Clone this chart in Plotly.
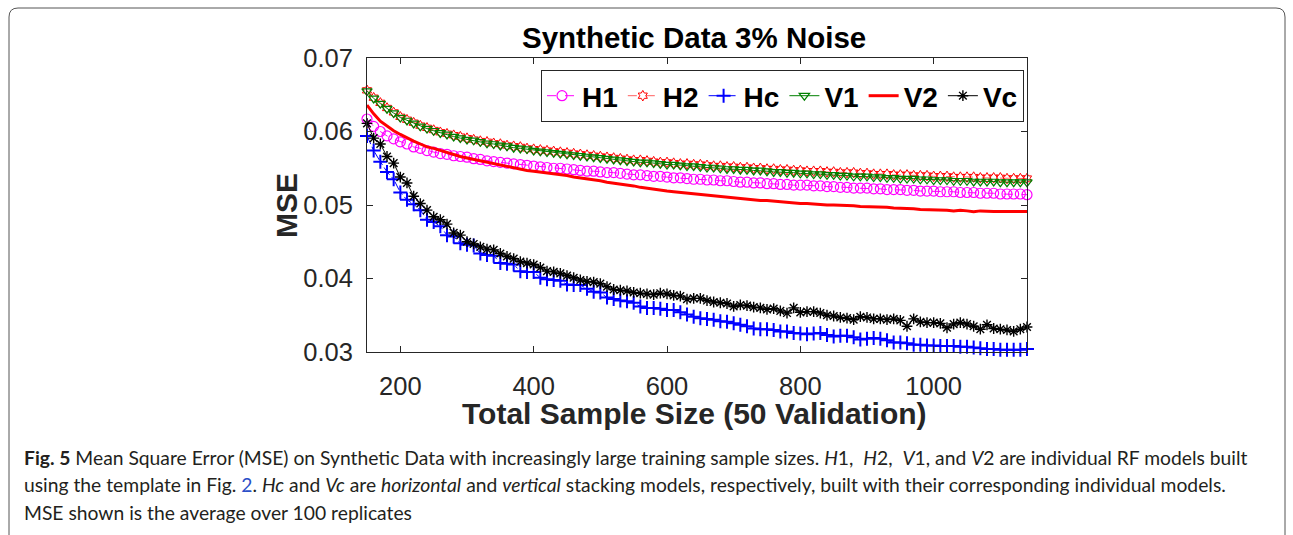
import plotly.graph_objects as go

# ---------------- data ----------------
sample_size = list(range(150, 1141, 10))

H1 = [0.0617, 0.0607, 0.0600, 0.0594, 0.0590, 0.0586, 0.0583, 0.0579, 0.0577, 0.0574,
      0.0572, 0.0570, 0.0569, 0.0567, 0.0566, 0.0565, 0.0563, 0.0562, 0.0560, 0.0559,
      0.0558, 0.0557, 0.0556, 0.0555, 0.0554, 0.0553, 0.0552, 0.0551, 0.0550, 0.0550,
      0.0549, 0.0548, 0.0547, 0.0546, 0.0546, 0.0545, 0.0544, 0.0544, 0.0543, 0.0542,
      0.0541, 0.0541, 0.0540, 0.0539, 0.0539, 0.0538, 0.0537, 0.0537, 0.0536, 0.0535,
      0.0535, 0.0534, 0.0534, 0.0533, 0.0533, 0.0532, 0.0531, 0.0531, 0.0530, 0.0530,
      0.0529, 0.0529, 0.0528, 0.0528, 0.0527, 0.0527, 0.0527, 0.0526, 0.0526, 0.0525,
      0.0525, 0.0524, 0.0524, 0.0523, 0.0523, 0.0523, 0.0522, 0.0522, 0.0521, 0.0521,
      0.0521, 0.0520, 0.0520, 0.0519, 0.0519, 0.0519, 0.0518, 0.0518, 0.0518, 0.0517,
      0.0517, 0.0517, 0.0516, 0.0516, 0.0516, 0.0515, 0.0515, 0.0515, 0.0515, 0.0514]

H2 = [0.0656, 0.0646, 0.0639, 0.0632, 0.0626, 0.0620, 0.0616, 0.0612, 0.0608, 0.0605,
      0.0602, 0.0599, 0.0597, 0.0595, 0.0593, 0.0591, 0.0589, 0.0587, 0.0586, 0.0584,
      0.0583, 0.0581, 0.0580, 0.0579, 0.0577, 0.0576, 0.0575, 0.0574, 0.0573, 0.0572,
      0.0571, 0.0570, 0.0569, 0.0568, 0.0567, 0.0566, 0.0565, 0.0564, 0.0563, 0.0562,
      0.0561, 0.0561, 0.0560, 0.0559, 0.0558, 0.0558, 0.0557, 0.0556, 0.0556, 0.0555,
      0.0555, 0.0554, 0.0553, 0.0553, 0.0552, 0.0552, 0.0551, 0.0551, 0.0550, 0.0550,
      0.0549, 0.0549, 0.0548, 0.0548, 0.0547, 0.0547, 0.0546, 0.0546, 0.0546, 0.0545,
      0.0545, 0.0544, 0.0544, 0.0544, 0.0543, 0.0543, 0.0542, 0.0542, 0.0542, 0.0541,
      0.0541, 0.0541, 0.0540, 0.0540, 0.0540, 0.0539, 0.0539, 0.0539, 0.0538, 0.0538,
      0.0538, 0.0538, 0.0537, 0.0537, 0.0537, 0.0537, 0.0536, 0.0536, 0.0536, 0.0536]

Hc = [0.0594, 0.0574, 0.0559, 0.0545, 0.0535, 0.0517, 0.0507, 0.0501, 0.0493, 0.0480,
      0.0477, 0.0471, 0.0459, 0.0457, 0.0448, 0.0446, 0.0445, 0.0434, 0.0432, 0.0431,
      0.0421, 0.0420, 0.0419, 0.0410, 0.0409, 0.0409, 0.0401, 0.0399, 0.0398, 0.0397,
      0.0392, 0.0391, 0.0391, 0.0386, 0.0382, 0.0381, 0.0374, 0.0372, 0.0370, 0.0369,
      0.0367, 0.0362, 0.0360, 0.0360, 0.0359, 0.0357, 0.0357, 0.0354, 0.0351, 0.0348,
      0.0346, 0.0345, 0.0344, 0.0342, 0.0341, 0.0339, 0.0337, 0.0335, 0.0332, 0.0331,
      0.0331, 0.0330, 0.0328, 0.0328, 0.0326, 0.0325, 0.0324, 0.0325, 0.0326, 0.0323,
      0.0321, 0.0322, 0.0322, 0.0320, 0.0317, 0.0318, 0.0319, 0.0318, 0.0316, 0.0313,
      0.0313, 0.0312, 0.0310, 0.0310, 0.0309, 0.0309, 0.0308, 0.0308, 0.0308, 0.0307,
      0.0307, 0.0306, 0.0305, 0.0304, 0.0304, 0.0303, 0.0303, 0.0303, 0.0303, 0.0304]

V1 = [0.0655, 0.0645, 0.0638, 0.0631, 0.0625, 0.0619, 0.0615, 0.0611, 0.0607, 0.0604,
      0.0601, 0.0598, 0.0596, 0.0593, 0.0591, 0.0589, 0.0588, 0.0586, 0.0584, 0.0583,
      0.0581, 0.0580, 0.0578, 0.0577, 0.0576, 0.0574, 0.0573, 0.0572, 0.0571, 0.0570,
      0.0569, 0.0568, 0.0567, 0.0566, 0.0565, 0.0564, 0.0563, 0.0562, 0.0561, 0.0560,
      0.0559, 0.0558, 0.0558, 0.0557, 0.0556, 0.0555, 0.0555, 0.0554, 0.0553, 0.0553,
      0.0552, 0.0551, 0.0551, 0.0550, 0.0549, 0.0549, 0.0548, 0.0548, 0.0547, 0.0547,
      0.0546, 0.0545, 0.0545, 0.0544, 0.0544, 0.0543, 0.0543, 0.0542, 0.0542, 0.0541,
      0.0541, 0.0540, 0.0540, 0.0539, 0.0539, 0.0539, 0.0538, 0.0538, 0.0537, 0.0537,
      0.0536, 0.0536, 0.0536, 0.0535, 0.0535, 0.0534, 0.0534, 0.0534, 0.0533, 0.0533,
      0.0533, 0.0532, 0.0532, 0.0532, 0.0532, 0.0531, 0.0531, 0.0531, 0.0531, 0.0531]

V2 = [0.0636, 0.0624, 0.0614, 0.0607, 0.0601, 0.0596, 0.0591, 0.0587, 0.0583, 0.0579,
      0.0577, 0.0574, 0.0571, 0.0569, 0.0566, 0.0564, 0.0562, 0.0560, 0.0558, 0.0556,
      0.0554, 0.0552, 0.0550, 0.0549, 0.0547, 0.0546, 0.0545, 0.0543, 0.0542, 0.0541,
      0.0540, 0.0538, 0.0537, 0.0536, 0.0534, 0.0533, 0.0531, 0.0530, 0.0529, 0.0527,
      0.0526, 0.0524, 0.0523, 0.0521, 0.0520, 0.0519, 0.0518, 0.0517, 0.0516, 0.0515,
      0.0514, 0.0513, 0.0512, 0.0512, 0.0511, 0.0510, 0.0509, 0.0508, 0.0507, 0.0506,
      0.0506, 0.0505, 0.0504, 0.0503, 0.0503, 0.0502, 0.0502, 0.0501, 0.0501, 0.0500,
      0.0500, 0.0500, 0.0499, 0.0499, 0.0498, 0.0498, 0.0498, 0.0497, 0.0497, 0.0496,
      0.0496, 0.0495, 0.0495, 0.0494, 0.0494, 0.0494, 0.0493, 0.0493, 0.0492, 0.0493,
      0.0492, 0.0491, 0.0492, 0.0491, 0.0491, 0.0491, 0.0491, 0.0491, 0.0491, 0.0491]

Vc = [0.0611, 0.0591, 0.0583, 0.0566, 0.0557, 0.0538, 0.0530, 0.0512, 0.0502, 0.0493,
      0.0484, 0.0480, 0.0474, 0.0462, 0.0459, 0.0450, 0.0447, 0.0443, 0.0440, 0.0439,
      0.0434, 0.0430, 0.0427, 0.0423, 0.0421, 0.0419, 0.0415, 0.0410, 0.0409, 0.0407,
      0.0404, 0.0401, 0.0398, 0.0396, 0.0395, 0.0393, 0.0389, 0.0385, 0.0384, 0.0383,
      0.0381, 0.0380, 0.0379, 0.0378, 0.0380, 0.0379, 0.0377, 0.0376, 0.0372, 0.0373,
      0.0373, 0.0370, 0.0368, 0.0367, 0.0366, 0.0362, 0.0364, 0.0363, 0.0361, 0.0360,
      0.0358, 0.0359, 0.0356, 0.0353, 0.0360, 0.0354, 0.0355, 0.0355, 0.0353, 0.0350,
      0.0349, 0.0347, 0.0346, 0.0344, 0.0348, 0.0347, 0.0345, 0.0345, 0.0344, 0.0345,
      0.0343, 0.0335, 0.0345, 0.0341, 0.0340, 0.0340, 0.0339, 0.0333, 0.0338, 0.0340,
      0.0338, 0.0335, 0.0331, 0.0337, 0.0332, 0.0331, 0.0330, 0.0328, 0.0331, 0.0334]

series_names = ["H1", "H2", "Hc", "V1", "V2", "Vc"]
x_ticks = [200, 400, 600, 800, 1000]
y_ticks = [0.03, 0.04, 0.05, 0.06, 0.07]

for s in (H1, H2, Hc, V1, V2, Vc):
    assert len(s) == len(sample_size), len(s)

# ---------------- figure ----------------
W, H = 1293, 535
FONT = "Liberation Sans, Arial, Helvetica, sans-serif"

def px_x(p):
    return p / W

def px_y(p):
    return 1 - p / H

styles = {
    "H1": dict(mode="lines+markers", line=dict(color="#ff00ff", width=1, dash="dash"),
               marker=dict(symbol="circle-open", size=10, color="#ff00ff", line=dict(width=1.2))),
    "H2": dict(mode="lines+markers", line=dict(color="#ff6060", width=1, dash="dash"),
               marker=dict(symbol="hexagram-open", size=8, color="#ff0000", line=dict(width=1))),
    "Hc": dict(mode="lines+markers", line=dict(color="#0000ff", width=1, dash="dashdot"),
               marker=dict(symbol="cross-thin-open", size=10, color="#0000ff", line=dict(width=2, color="#0000ff"))),
    "V1": dict(mode="lines+markers", line=dict(color="#008000", width=1),
               marker=dict(symbol="triangle-down-open", size=9, color="#008000", line=dict(width=1.2))),
    "V2": dict(mode="lines", line=dict(color="#ff0000", width=3)),
    "Vc": dict(mode="lines+markers", line=dict(color="#000000", width=1),
               marker=dict(symbol="asterisk-open", size=9, color="#000000", line=dict(width=1.4, color="#000000"))),
}

data_map = {"H1": H1, "H2": H2, "Hc": Hc, "V1": V1, "V2": V2, "Vc": Vc}

fig = go.Figure()
for name in series_names:
    fig.add_trace(go.Scatter(x=sample_size, y=data_map[name], name=name,
                             cliponaxis=False, **styles[name]))

axis_common = dict(showline=True, linecolor="#262626", linewidth=1, mirror="ticks",
                   ticks="inside", ticklen=6, tickcolor="#262626", showgrid=False,
                   zeroline=False, automargin=False,
                   tickfont=dict(family=FONT, size=25.5, color="#262626"))

fig.update_layout(
    width=W, height=H,
    margin=dict(l=0, r=0, t=0, b=0, autoexpand=False),
    paper_bgcolor="white", plot_bgcolor="white",
    showlegend=True,
    xaxis=dict(domain=[px_x(367), px_x(1027)], range=[150, 1140], ticklabelstandoff=11,
               tickvals=x_ticks, ticktext=[str(v) for v in x_ticks], **axis_common),
    yaxis=dict(domain=[px_y(352), px_y(58)], range=[0.03, 0.07], ticklabelstandoff=8,
               tickvals=y_ticks, ticktext=[f"{v:.2f}" for v in y_ticks], **axis_common),
    legend=dict(orientation="h", x=px_x(1024), y=px_y(70), xanchor="right", yanchor="top",
                bgcolor="white", bordercolor="#262626", borderwidth=1,
                font=dict(family=FONT, size=28, color="black", weight="bold"),
                itemwidth=30, tracegroupgap=0),
)

# title and axis titles
common_ann = dict(xref="paper", yref="paper", showarrow=False, xanchor="center", yanchor="middle")
fig.add_annotation(text="<b>Synthetic Data 3% Noise</b>", x=px_x(694), y=px_y(38),
                   font=dict(family=FONT, size=29.5, color="black"), **common_ann)
fig.add_annotation(text="<b>Total Sample Size (50 Validation)</b>", x=px_x(694), y=px_y(413),
                   font=dict(family=FONT, size=30, color="#262626"), **common_ann)
fig.add_annotation(text="<b>MSE</b>", x=px_x(287), y=px_y(206), textangle=-90,
                   font=dict(family=FONT, size=30, color="#262626"), **common_ann)

# caption
CAP = "Lato, Noto Sans, sans-serif"
cap_lines = [
    "<b>Fig. 5</b> Mean Square Error (MSE) on Synthetic Data with increasingly large training sample sizes. "
    "<i>H</i>1,&nbsp; <i>H</i>2,&nbsp; <i>V</i>1, and <i>V</i>2 are individual RF models built",
    "using the template in Fig. <span style='color:#2b50c8'>2</span>. <i>Hc</i> and <i>Vc</i> are "
    "<i>horizontal</i> and <i>vertical</i> stacking models, respectively, built with their corresponding individual models.",
    "MSE shown is the average over 100 replicates",
]
for i, t in enumerate(cap_lines):
    fig.add_annotation(text=t, x=px_x(22), y=px_y(457 + 27.5 * i), xanchor="left", yanchor="middle",
                       xref="paper", yref="paper", showarrow=False, align="left",
                       font=dict(family=CAP, size=19.3, color="#231f20"))

# rounded frame around the figure
r = 9
x0, y0, x1, y1 = 9, 8, 1285, 560
path = (f"M {px_x(x0)},{px_y(y1)} L {px_x(x0)},{px_y(y0 + r)} "
        f"Q {px_x(x0)},{px_y(y0)} {px_x(x0 + r)},{px_y(y0)} "
        f"L {px_x(x1 - r)},{px_y(y0)} Q {px_x(x1)},{px_y(y0)} {px_x(x1)},{px_y(y0 + r)} "
        f"L {px_x(x1)},{px_y(y1)}")
fig.add_shape(type="path", path=path, xref="paper", yref="paper",
              line=dict(color="#555555", width=1))

fig.write_html("out.html")
